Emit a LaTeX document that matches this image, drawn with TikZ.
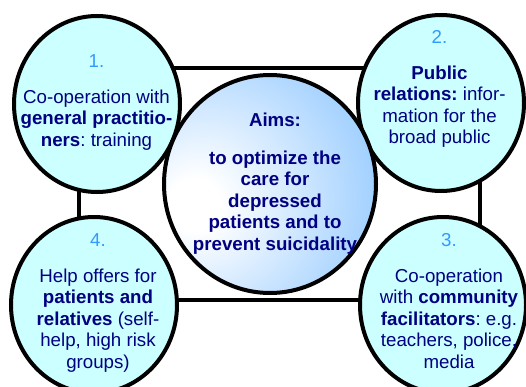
\documentclass[tikz,border=0pt]{standalone}
\usepackage{fontspec}
\setmainfont{Liberation Sans}
\usetikzlibrary{shapes.geometric}
\usetikzlibrary{positioning}
\frenchspacing

\definecolor{textnavy}{HTML}{000080}
\definecolor{numblue}{HTML}{3399FF}
\definecolor{pillarfill}{HTML}{CCFFFF}
\definecolor{aimsblue}{HTML}{99CCFF}
\pgfdeclareradialshading{aimsglow}{\pgfpoint{-19bp}{-5bp}}{color(0bp)=(white); color(6bp)=(white); color(40bp)=(aimsblue); color(100bp)=(aimsblue)}

\tikzset{
  pillar/.style={ellipse, draw, line width=4pt, fill=pillarfill, minimum width=166pt, minimum height=176pt, inner sep=0pt},
  aimsbox/.style={ellipse, draw, line width=4pt, shading=aimsglow, minimum width=212pt, minimum height=218pt, inner sep=0pt},
  frame/.style={line width=4pt},
  pillartext/.style={anchor=north, inner sep=0pt, text=textnavy, align=center, font=\fontsize{18.7pt}{21.5pt}\selectfont},
}
\newcommand{\pillarno}[1]{\textcolor{numblue}{#1}\\[14.3pt]}

\begin{document}
\begin{tikzpicture}[x=1pt, y=-1pt]
        \useasboundingbox (0,0) rectangle (526,387);
        \coordinate (frameNW) at (79,68);
        \coordinate (frameSE) at (480,300);
        \draw[frame] (frameNW) rectangle (frameSE);

        \node[pillar] (gp) at (97,104) {};
        \node[pillar] (public) at (441,103) {};
        \node[pillar] (community) at (443,305) {};
        \node[pillar] (patients) at (94,305) {};
        \node[aimsbox] (aims) at (270,184) {};

        \node[pillartext] (gptext) at (96.5,54.3) {\pillarno{1.}Co-operation with\\\textbf{general practitio-}\\\textbf{ners}: training};
        \node[pillartext] (publictext) at (439.5,30.3) {\pillarno{2.}\textbf{Public}\\\textbf{relations:} infor-\\mation for the\\broad public};
        \node[pillartext] (communitytext) at (449,233.3) {\pillarno{3.}Co-operation\\with \textbf{community}\\\textbf{facilitators}: e.g.\\teachers, police,\\media};
        \node[pillartext] (patientstext) at (98,233.3) {\pillarno{4.}Help offers for\\\textbf{patients and}\\\textbf{relatives} (self-\\help, high risk\\groups)};
        \node[pillartext, font=\bfseries\fontsize{18.7pt}{21.5pt}\selectfont] (aimstext) at (275,112.3) {Aims:\\[16.5pt]to optimize the\\care for\\depressed\\patients and to\\prevent suicidality};

    \end{tikzpicture}
\end{document}
